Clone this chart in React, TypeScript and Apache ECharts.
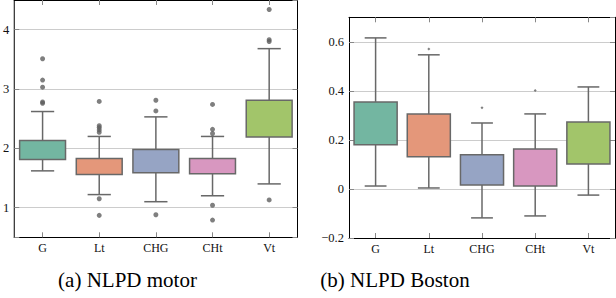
import React, { useEffect, useRef } from "react";
import * as echarts from "echarts";

const categories = ["G", "Lt", "CHG", "CHt", "Vt"];
const boxColors = ["#73b6a1", "#e4977a", "#96a4c4", "#d897c0", "#a2c56a"];

// NLPD motor
const motorWhiskerLow = [1.62, 1.22, 1.1, 1.2, 1.4];
const motorQ1 = [1.81, 1.56, 1.59, 1.57, 2.19];
const motorQ3 = [2.13, 1.83, 1.98, 1.83, 2.81];
const motorWhiskerHigh = [2.62, 2.2, 2.53, 2.2, 3.68];
const motorOutliers = [
  [0, 3.51], [0, 3.15], [0, 3.03], [0, 2.78], [0, 2.76],
  [1, 2.79], [1, 2.38], [1, 2.35], [1, 2.31], [1, 2.27], [1, 1.15], [1, 0.87],
  [2, 2.81], [2, 2.63], [2, 0.88],
  [3, 2.74], [3, 2.32], [3, 2.25], [3, 1.04], [3, 0.79],
  [4, 4.34], [4, 3.83], [4, 3.8], [4, 1.13],
];

// NLPD Boston
const bostonWhiskerLow = [0.012, 0.004, -0.118, -0.11, -0.025];
const bostonQ1 = [0.18, 0.131, 0.016, 0.012, 0.102];
const bostonQ3 = [0.355, 0.306, 0.139, 0.163, 0.273];
const bostonWhiskerHigh = [0.616, 0.547, 0.269, 0.306, 0.416];
const bostonOutliers = [[1, 0.571], [2, 0.331], [3, 0.401]];

const captions = ["(a) NLPD motor", "(b) NLPD Boston"];

const FONT = "Liberation Serif, DejaVu Serif, Times New Roman, serif";
const EDGE = "#686868";

function renderBox(params: any, api: any) {
  const i = api.value(0);
  const lo = api.coord([i, api.value(1)]);
  const q1 = api.coord([i, api.value(2)]);
  const q3 = api.coord([i, api.value(3)]);
  const hi = api.coord([i, api.value(4)]);
  const band = api.size([1, 0])[0];
  const bw = band * 0.81;
  const cw = band * 0.41;
  const cx = lo[0];
  const st = { stroke: EDGE, lineWidth: 1.5 };
  return {
    type: "group",
    children: [
      { type: "line", shape: { x1: cx, y1: hi[1], x2: cx, y2: q3[1] }, style: st },
      { type: "line", shape: { x1: cx, y1: q1[1], x2: cx, y2: lo[1] }, style: st },
      { type: "line", shape: { x1: cx - cw / 2, y1: hi[1], x2: cx + cw / 2, y2: hi[1] }, style: st },
      { type: "line", shape: { x1: cx - cw / 2, y1: lo[1], x2: cx + cw / 2, y2: lo[1] }, style: st },
      {
        type: "rect",
        shape: { x: cx - bw / 2, y: q3[1], width: bw, height: q1[1] - q3[1] },
        style: { fill: boxColors[i], stroke: EDGE, lineWidth: 1.5 },
      },
    ],
  };
}

function xAxes(gridIndex: number) {
  const common = {
    gridIndex,
    type: "category",
    data: categories,
    boundaryGap: true,
    axisLine: { show: true, onZero: false, lineStyle: { color: "#000", width: 1 } },
    axisTick: { show: true, inside: true, alignWithLabel: true, length: 5, lineStyle: { color: "#888" } },
    splitLine: { show: false },
  };
  return [
    {
      ...common,
      position: "bottom",
      axisLabel: { show: true, margin: 5, fontFamily: FONT, fontSize: 12, color: "#111" },
    },
    { ...common, position: "top", axisLabel: { show: false } },
  ];
}

function yAxes(gridIndex: number, min: number, max: number, interval: number | undefined, fmt: (v: number) => string) {
  const common: any = {
    gridIndex,
    type: "value",
    min,
    max,
    axisLine: { show: true, onZero: false, lineStyle: { color: "#000", width: 1 } },
    axisTick: { show: true, inside: true, length: 5, lineStyle: { color: "#888" } },
  };
  if (interval !== undefined) common.interval = interval;
  else common.splitNumber = 4;
  return [
    {
      ...common,
      position: "left",
      splitLine: { show: true, lineStyle: { color: "#cccccc", width: 1 } },
      axisLabel: {
        show: true,
        margin: 5,
        fontFamily: FONT,
        fontSize: 12.5,
        color: "#111",
        showMinLabel: true,
        showMaxLabel: false,
        formatter: fmt,
      },
    },
    { ...common, position: "right", splitLine: { show: false }, axisLabel: { show: false } },
  ];
}

export default function App() {
  const ref = useRef<HTMLDivElement>(null);
  useEffect(() => {
    if (!ref.current) return;
    const chart = echarts.init(ref.current, null, { renderer: "svg" });
    const motorData = categories.map((c, i) => [i, motorWhiskerLow[i], motorQ1[i], motorQ3[i], motorWhiskerHigh[i]]);
    const bostonData = categories.map((c, i) => [i, bostonWhiskerLow[i], bostonQ1[i], bostonQ3[i], bostonWhiskerHigh[i]]);
    chart.setOption({
      animation: false,
      backgroundColor: "#ffffff",
      grid: [
        { left: 12, right: 318.5, top: -0.5, bottom: 60.7, containLabel: false },
        { left: 349, right: 1, top: 17.3, bottom: 60, containLabel: false },
      ],
      xAxis: [...xAxes(0), ...xAxes(1)],
      yAxis: [
        ...yAxes(0, 0.5, 4.5, undefined, (v: number) => (Number.isInteger(v) ? String(v) : "")),
        ...yAxes(1, -0.2, 0.7, 0.2, (v: number) =>
          Math.abs(v) < 1e-9 ? "0" : v.toFixed(1).replace("-", "\u2212")
        ),
      ],
      series: [
        {
          type: "custom",
          xAxisIndex: 0,
          yAxisIndex: 0,
          renderItem: renderBox,
          encode: { x: 0, y: [1, 2, 3, 4] },
          data: motorData,
          z: 3,
        },
        {
          type: "scatter",
          xAxisIndex: 0,
          yAxisIndex: 0,
          symbol: "circle",
          symbolSize: 5,
          itemStyle: { color: "#5f5f5f" },
          data: motorOutliers,
          z: 4,
        },
        {
          type: "custom",
          xAxisIndex: 2,
          yAxisIndex: 2,
          renderItem: renderBox,
          encode: { x: 0, y: [1, 2, 3, 4] },
          data: bostonData,
          z: 3,
        },
        {
          type: "scatter",
          xAxisIndex: 2,
          yAxisIndex: 2,
          symbol: "diamond",
          symbolSize: 3,
          itemStyle: { color: "#5f5f5f" },
          data: bostonOutliers,
          z: 4,
        },
      ],
      graphic: [
        {
          type: "text",
          x: 127.5,
          y: 279.5,
          style: {
            text: captions[0],
            fontFamily: FONT,
            fontSize: 21,
            fill: "#000",
            align: "center",
            verticalAlign: "middle",
          },
        },
        {
          type: "text",
          x: 395,
          y: 279.5,
          style: {
            text: captions[1],
            fontFamily: FONT,
            fontSize: 21,
            fill: "#000",
            align: "center",
            verticalAlign: "middle",
          },
        },
      ],
    });
    return () => chart.dispose();
  }, []);
  return <div ref={ref} style={{ width: 616, height: 298, position: "absolute", left: 0, top: 0 }} />;
}
